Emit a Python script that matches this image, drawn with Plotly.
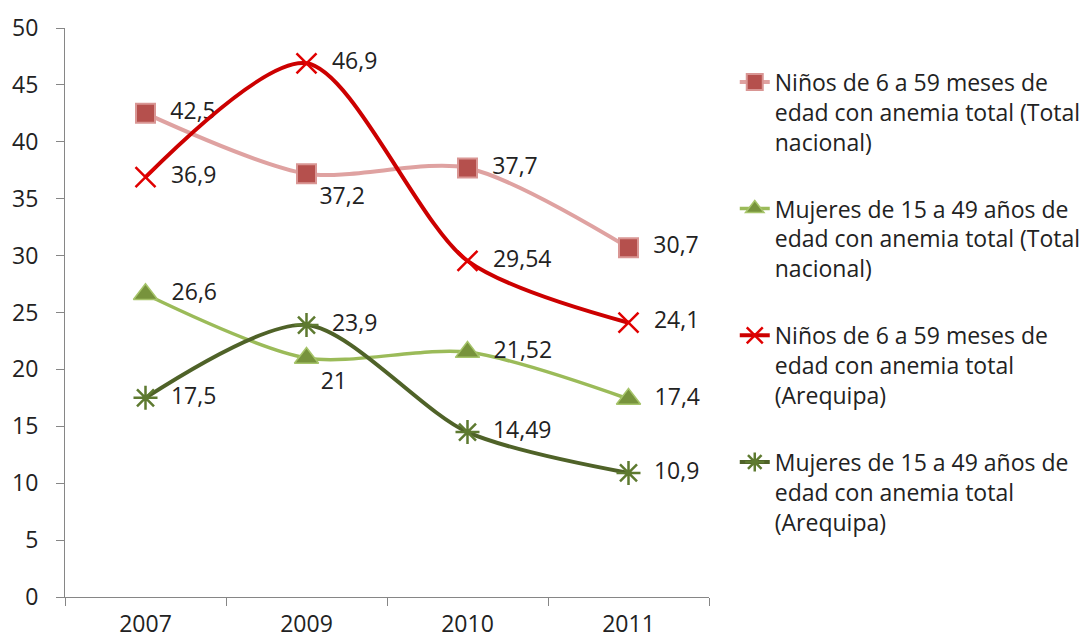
import plotly.graph_objects as go

years = ["2007", "2009", "2010", "2011"]

ninos_nacional = [42.5, 37.2, 37.7, 30.7]
mujeres_nacional = [26.6, 21, 21.52, 17.4]
ninos_arequipa = [36.9, 46.9, 29.54, 24.1]
mujeres_arequipa = [17.5, 23.9, 14.49, 10.9]

names = [
    "Niños de 6 a 59 meses de<br>edad con anemia total (Total<br>nacional)",
    "Mujeres de 15 a 49 años de<br>edad con anemia total (Total<br>nacional)",
    "Niños de 6 a 59 meses de<br>edad con anemia total<br>(Arequipa)",
    "Mujeres de 15 a 49 años de<br>edad con anemia total<br>(Arequipa)",
]

FONT = "Open Sans"
TEXT = "#222222"
AXIS = "#868686"


def labels(values, below=()):
    out = []
    for i, v in enumerate(values):
        s = f"{v:g}".replace(".", ",")
        out.append(s if i in below else "  " + s)
    return out


def positions(n, below=()):
    return ["bottom right" if i in below else "middle right" for i in range(n)]


fig = go.Figure()

fig.add_trace(go.Scatter(
    x=years, y=ninos_nacional, name=names[0], legendgroup="a",
    mode="lines+markers+text", text=labels(ninos_nacional, below=(1,)),
    textposition=positions(4, below=(1,)),
    line=dict(color="#DFA2A1", width=4, shape="spline", smoothing=0.8),
    marker=dict(symbol="square", size=19, color="#B5504D", line=dict(color="#D99694", width=2)),
))
fig.add_trace(go.Scatter(
    x=years, y=mujeres_nacional, name=names[1], legendgroup="b",
    mode="lines+markers+text", text=labels(mujeres_nacional, below=(1,)),
    textposition=positions(4, below=(1,)),
    line=dict(color="#9BBB59", width=3.5, shape="spline", smoothing=0.8),
    marker=dict(symbol="triangle-up", size=21, color="#77933C", line=dict(color="#A6C46A", width=1.5)),
))
fig.add_trace(go.Scatter(
    x=years, y=ninos_arequipa, name=names[2], legendgroup="c",
    mode="lines+markers+text", text=labels(ninos_arequipa),
    textposition="middle right",
    line=dict(color="#CC0000", width=4, shape="spline", smoothing=0.8),
    marker=dict(symbol="x-thin-open", size=20, color="#E00000", line=dict(width=2.5)),
))
fig.add_trace(go.Scatter(
    x=years, y=mujeres_arequipa, name=names[3], legendgroup="d",
    mode="lines+markers+text", text=labels(mujeres_arequipa),
    textposition="middle right",
    line=dict(color="#4F6228", width=4, shape="spline", smoothing=0.8),
    marker=dict(symbol="asterisk-open", size=20, color="#5E7A30", line=dict(width=2.5)),
))

fig.update_traces(textfont=dict(family=FONT, size=23, color=TEXT), cliponaxis=False)

fig.update_layout(
    width=1090, height=641,
    margin=dict(l=57, r=389, t=20, b=52, autoexpand=False),
    plot_bgcolor="white", paper_bgcolor="white",
    font=dict(family=FONT, size=23, color=TEXT),
    showlegend=True,
    legend=dict(
        x=1.04, y=0.943, xanchor="left", yanchor="top", valign="top",
        font=dict(family=FONT, size=23, color=TEXT),
        tracegroupgap=34, bgcolor="rgba(0,0,0,0)",
    ),
)
fig.update_xaxes(
    type="category", range=[-0.5, 3.5], showgrid=False, automargin=False,
    showline=True, linecolor=AXIS, linewidth=1,
    ticks="outside", tickson="boundaries", ticklen=8, tickcolor=AXIS,
    ticklabelstandoff=6,
    tickfont=dict(family=FONT, size=23, color=TEXT),
)
fig.update_yaxes(
    range=[0, 50], dtick=5, showgrid=False, zeroline=False, automargin=False,
    showline=True, linecolor=AXIS, linewidth=1,
    ticks="outside", ticklen=8, tickcolor=AXIS,
    ticklabelstandoff=13,
    tickfont=dict(family=FONT, size=23, color=TEXT),
)

fig.write_html("out.html")
